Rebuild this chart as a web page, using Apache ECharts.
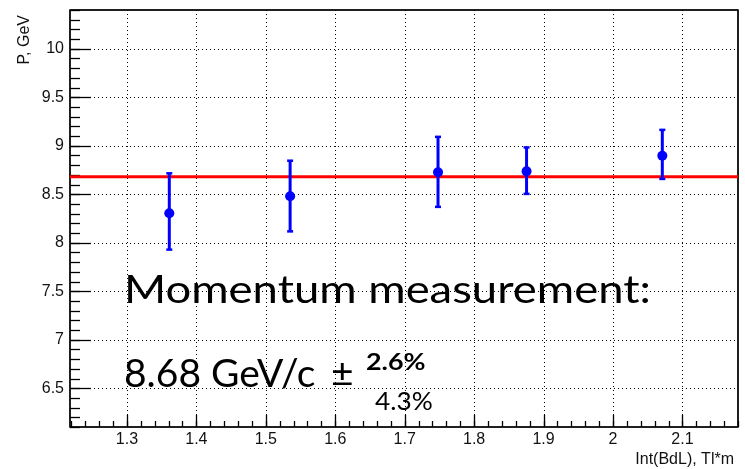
<!DOCTYPE html>
<html>
<head>
<meta charset="utf-8">
<script src="https://cdn.jsdelivr.net/npm/echarts@6/dist/echarts.min.js"></script>
<style>
  html, body { margin: 0; padding: 0; background: #fff; }
  #chart { width: 745px; height: 469px; }
</style>
</head>
<body>
<div id="chart"></div>
<script>
// Integrated field (T*m) for each run
const fieldIntegral = [1.361, 1.535, 1.748, 1.8755, 2.071];
// Reconstructed momentum, GeV
const momentum = [8.305, 8.48, 8.726, 8.736, 8.897];
// Error bar ends, GeV
const momentumHigh = [8.716, 8.846, 9.092, 8.983, 9.164];
const momentumLow = [7.929, 8.117, 8.37, 8.504, 8.658];
// Mean momentum (fit line)
const meanMomentum = 8.68;

// Axis ranges and tick labels
const xRange = [1.218, 2.18];
const yRange = [6.1, 10.4];
const xTicks = [1.3, 1.4, 1.5, 1.6, 1.7, 1.8, 1.9, 2.0, 2.1];
const yTicks = [6.5, 7, 7.5, 8, 8.5, 9, 9.5, 10];
const xMinorStep = 0.02;
const yMinorStep = 0.1;

function minorValues(range, step) {
  const out = [];
  const start = Math.ceil(range[0] / step - 1e-6);
  for (let k = start; k * step <= range[1] + 1e-9; k++) out.push(+(k * step).toFixed(4));
  return out;
}
const xMinor = minorValues(xRange, xMinorStep);
const yMinor = minorValues(yRange, yMinorStep);

const chart = echarts.init(document.getElementById('chart'));
const tickFont = { fontFamily: 'Liberation Sans', fontSize: 16, color: '#111' };

chart.setOption({
  animation: false,
  backgroundColor: '#fff',
  grid: { left: 70, right: 7, top: 10, bottom: 42, show: true, borderColor: '#000', borderWidth: 1 },
  xAxis: {
    type: 'value', min: xRange[0], max: xRange[1],
    axisLine: { show: false },
    axisTick: { show: false },
    splitLine: { show: false },
    axisLabel: Object.assign({ customValues: xTicks, margin: 5,
      formatter: v => String(+v.toFixed(2)) }, tickFont),
    name: 'Int(BdL), Tl*m', nameLocation: 'end',
    nameGap: 0,
    nameTextStyle: { fontFamily: 'Liberation Sans', fontSize: 16, color: '#111',
      align: 'right', verticalAlign: 'top', padding: [25, 4, 0, 0] }
  },
  yAxis: {
    type: 'value', min: yRange[0], max: yRange[1],
    axisLine: { show: false },
    axisTick: { show: false },
    splitLine: { show: false },
    axisLabel: Object.assign({ customValues: yTicks, margin: 6,
      formatter: v => String(+v.toFixed(2)) }, tickFont),
    name: 'P, GeV', nameLocation: 'end', nameRotate: 90, nameGap: 0,
    nameTextStyle: { fontFamily: 'Liberation Sans', fontSize: 16, color: '#111',
      align: 'right', verticalAlign: 'bottom', padding: [0, 5, 37, 0] }
  },
  series: [
    {
      // grid lines and tick marks drawn inside the frame
      type: 'custom',
      silent: true,
      z: 1,
      data: [0],
      renderItem: function (params, api) {
        const children = [];
        const x0 = api.coord([xRange[0], yRange[0]]);
        const x1 = api.coord([xRange[1], yRange[1]]);
        const left = x0[0], bottom = x0[1], right = x1[0], top = x1[1];
        const dotted = { stroke: '#000', lineWidth: 1, lineDash: [1, 3] };
        xTicks.forEach(v => {
          const px = Math.round(api.coord([v, yRange[0]])[0]) + 0.5;
          children.push({ type: 'line', shape: { x1: px, y1: bottom, x2: px, y2: top }, style: dotted });
          children.push({ type: 'line', shape: { x1: px, y1: bottom, x2: px, y2: bottom - 12 }, style: { stroke: '#000', lineWidth: 1.3 } });
        });
        yTicks.forEach(v => {
          const py = Math.round(api.coord([xRange[0], v])[1]) + 0.5;
          children.push({ type: 'line', shape: { x1: left, y1: py, x2: right, y2: py }, style: dotted });
          children.push({ type: 'line', shape: { x1: left, y1: py, x2: left + 21, y2: py }, style: { stroke: '#000', lineWidth: 1.3 } });
        });
        xMinor.forEach(v => {
          const px = Math.round(api.coord([v, yRange[0]])[0]) + 0.5;
          children.push({ type: 'line', shape: { x1: px, y1: bottom, x2: px, y2: bottom - 6 }, style: { stroke: '#000', lineWidth: 1.3 } });
        });
        yMinor.forEach(v => {
          const py = Math.round(api.coord([xRange[0], v])[1]) + 0.5;
          children.push({ type: 'line', shape: { x1: left, y1: py, x2: left + 10, y2: py }, style: { stroke: '#000', lineWidth: 1.3 } });
        });
        // frame
        children.push({ type: 'rect', shape: { x: left, y: top, width: right - left, height: bottom - top },
          style: { fill: null, stroke: '#000', lineWidth: 1.5 } });
        return { type: 'group', children: children };
      }
    },
    {
      // mean momentum line
      type: 'line',
      z: 3,
      symbol: 'none',
      data: [[xRange[0], meanMomentum], [xRange[1], meanMomentum]],
      lineStyle: { color: '#ff0000', width: 3 }
    },
    {
      // error bars
      type: 'custom',
      z: 4,
      data: fieldIntegral.map((x, i) => [x, momentumLow[i], momentumHigh[i]]),
      renderItem: function (params, api) {
        const lo = api.coord([api.value(0), api.value(1)]);
        const hi = api.coord([api.value(0), api.value(2)]);
        const col = '#0000ff';
        return {
          type: 'group',
          children: [
            { type: 'line', shape: { x1: lo[0], y1: lo[1], x2: hi[0], y2: hi[1] }, style: { stroke: col, lineWidth: 3 } },
            { type: 'line', shape: { x1: lo[0] - 3, y1: lo[1], x2: lo[0] + 3, y2: lo[1] }, style: { stroke: col, lineWidth: 2.5 } },
            { type: 'line', shape: { x1: hi[0] - 3, y1: hi[1], x2: hi[0] + 3, y2: hi[1] }, style: { stroke: col, lineWidth: 2.5 } }
          ]
        };
      }
    },
    {
      type: 'scatter',
      z: 5,
      symbol: 'circle',
      symbolSize: 10,
      itemStyle: { color: '#0000ff', opacity: 1 },
      data: fieldIntegral.map((x, i) => [x, momentum[i]])
    }
  ],
  graphic: [
    { type: 'text', x: 124, y: 271, scaleX: 1.165, z: 10,
      style: { text: 'Momentum measurement:', font: '39px Lato', fill: '#000' } },
    { type: 'text', x: 124, y: 355, z: 10,
      style: { text: '8.68 GeV/c', font: '39px Lato', fill: '#000' } },
    { type: 'text', x: 331, y: 355, z: 10,
      style: { text: '\u00b1', font: '39px Lato', fill: '#000' } },
    { type: 'text', x: 366, y: 352, scaleX: 1.22, z: 10,
      style: { text: '2.6%', font: 'bold 22px Lato', fill: '#000' } },
    { type: 'text', x: 375, y: 389, scaleX: 1.05, z: 10,
      style: { text: '4.3%', font: '25px Lato', fill: '#000' } }
  ]
});
</script>
</body>
</html>
